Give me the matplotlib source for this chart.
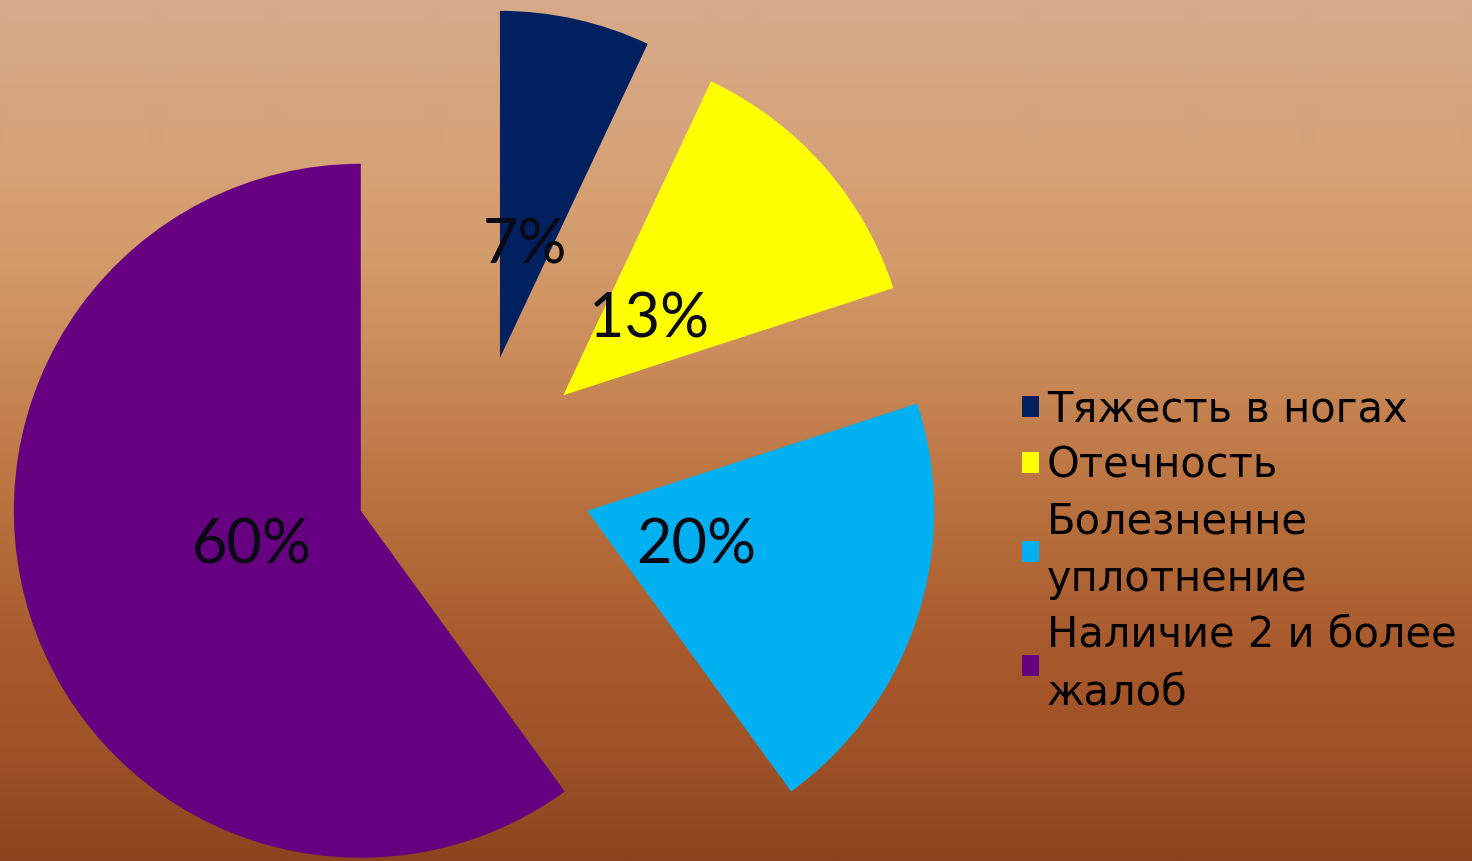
import matplotlib
matplotlib.use("Agg")
import matplotlib.pyplot as plt
import numpy as np

# доли жалоб, %
labels = ["Тяжесть в ногах", "Отечность", "Болезненне\nуплотнение", "Наличие 2 и более\nжалоб"]
shares = [7, 13, 20, 60]
colors = ["#002060", "#FFFF00", "#00B0F0", "#660080"]

# цвет фона сверху вниз (доля высоты -> RGB)
bg_stops = [0.0, 0.17, 0.30, 0.41, 0.58, 0.75, 0.87, 1.0]
bg_rgb = [
    (214, 170, 138),
    (214, 163, 122),
    (212, 155, 106),
    (202, 140, 90),
    (186, 114, 64),
    (168, 90, 44),
    (160, 82, 40),
    (140, 68, 32),
]

W, H = 1472, 861
fig = plt.figure(figsize=(W / 100, H / 100), dpi=100)
ax = fig.add_axes([0, 0, 1, 1])

wedges, _, pct_texts = ax.pie(
    shares,
    colors=colors,
    startangle=90,
    counterclock=False,
    explode=[0.343] * len(shares),
    autopct="%1.0f%%",
    pctdistance=0.33,
    wedgeprops=dict(linewidth=0),
    textprops=dict(color="#0a0a14", fontsize=44, family=["Lato", "DejaVu Sans"]),
)

# центр круга и радиус в пикселях
cx, cy, r = 474, 474, 347
xlim = (-cx / r, (W - cx) / r)
ylim = ((cy - H) / r, cy / r)

t = np.linspace(0, 1, H)
grad = np.stack([np.interp(t, bg_stops, [c[i] for c in bg_rgb]) for i in range(3)], axis=-1) / 255
ax.imshow(grad[:, None, :], extent=(xlim[0], xlim[1], ylim[0], ylim[1]),
          aspect="auto", zorder=0, interpolation="bilinear")

ax.set_xlim(*xlim)
ax.set_ylim(*ylim)
ax.set_aspect("auto")
ax.axis("off")

leg = ax.legend(
    wedges, labels,
    loc="center left",
    bbox_to_anchor=(1022 / W, 1 - 551 / H),
    bbox_transform=fig.transFigure,
    frameon=False,
    fontsize=30,
    handlelength=0.4,
    handleheight=0.4,
    handletextpad=0.2,
    labelspacing=0.33,
    borderpad=0,
    borderaxespad=0,
)
for txt in leg.get_texts():
    txt.set_linespacing(1.48)

fig.savefig("out.png", dpi=100)
